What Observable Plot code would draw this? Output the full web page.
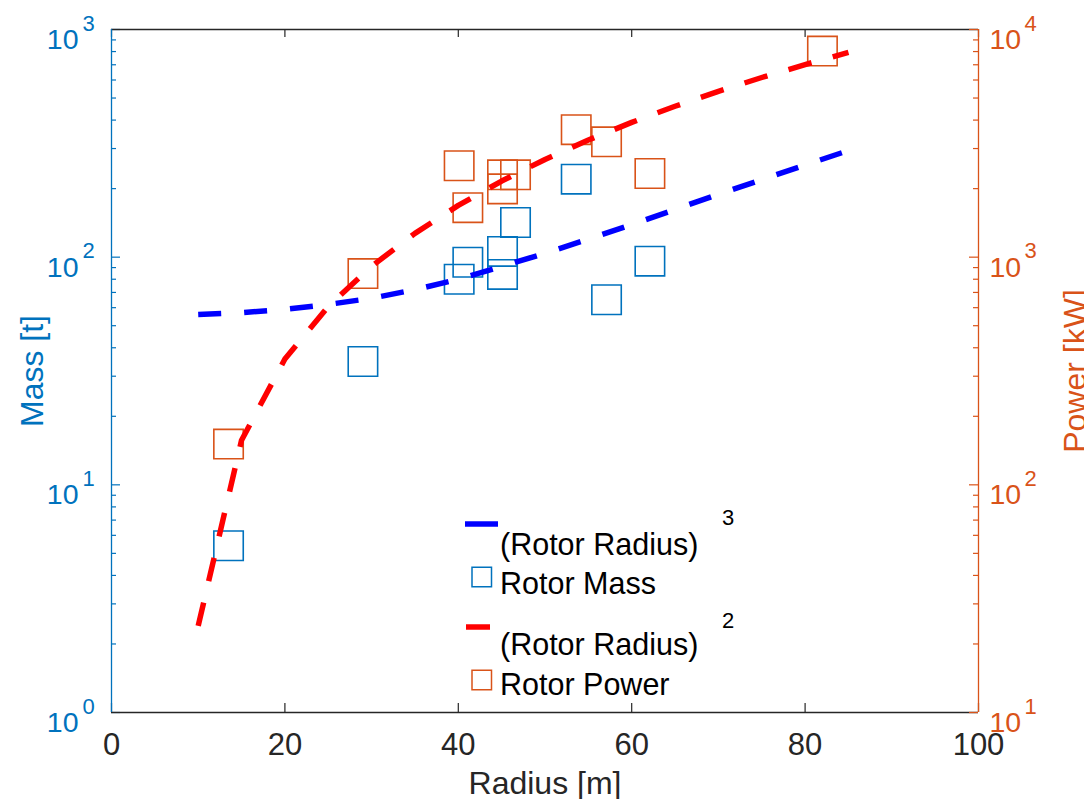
<!DOCTYPE html>
<html><head><meta charset="utf-8">
<script src="https://cdn.jsdelivr.net/npm/d3@7"></script>
<script src="https://cdn.jsdelivr.net/npm/@observablehq/plot@0.6"></script>
<style>
body{margin:0;background:#fff;}
#wrap{position:relative;width:1084px;height:799px;overflow:hidden;background:#fff;}
#wrap svg{position:absolute;left:0;top:0;}
</style></head><body><div id="wrap"></div>
<script>
// ---- data ----
const massRadius  = [13.5, 29.0, 40.1, 41.1, 45.1, 45.1, 46.6, 53.6, 57.1, 62.1];
const massValues  = [5.4, 34.8, 80, 95, 106, 84, 142, 220, 65, 96];
const powerRadius = [13.5, 29.0, 40.1, 41.1, 45.1, 46.6, 45.1, 53.6, 57.1, 62.1, 82.0];
const powerValues = [151, 847, 2520, 1650, 2300, 2300, 1995, 3630, 3210, 2330, 8040];
const fitRadius   = [10, 15, 20, 25, 30, 35, 40, 45, 50, 55, 60, 65, 70, 75, 80, 85];
const cubeFit     = [56, 57, 59, 62, 66, 72, 80, 91, 104, 120, 139, 162, 189, 219, 254, 294];
const squareFit   = [24, 157, 357, 607, 912, 1272, 1688, 2160, 2687, 3270, 3908, 4601, 5350, 6154, 7014, 7930];
const xTicks      = [0, 20, 40, 60, 80, 100];
const massTicks   = [1, 10, 100, 1000];
const powerTicks  = [10, 100, 1000, 10000];

const W = 1084, H = 799, mL = 111, mR = 106, mT = 29, mB = 87;
const fw = W - mL - mR, fh = H - mT - mB;
const font = "'Liberation Sans', Arial, Helvetica, sans-serif";
const BLUE = "#0072BD", ORANGE = "#D95319", INK = "#262626";

function minors(t) {
  const out = [];
  for (let i = 0; i < t.length - 1; i++) for (let k = 2; k <= 9; k++) out.push(t[i] * k);
  return out;
}
const massData = massRadius.map((r, i) => ({r, v: massValues[i]}));
const powerData = powerRadius.map((r, i) => ({r, v: powerValues[i]}));
const fitData = fitRadius.map((r, i) => ({r, c: cubeFit[i], s: squareFit[i]}));
const exp = d => String(Math.round(Math.log10(d)));

const common = {
  width: W, height: H, marginLeft: mL, marginRight: mR, marginTop: mT, marginBottom: mB,
  style: {fontFamily: font, background: "transparent", overflow: "visible"},
  x: {domain: [0, 100], axis: null}
};

const leftPlot = Plot.plot({
  ...common,
  y: {type: "log", domain: [1, 1000], axis: null},
  marks: [
    Plot.tickX(xTicks, {x: d => d, stroke: INK, strokeWidth: 1.2, insetTop: fh - 9}),
    Plot.tickX(xTicks, {x: d => d, stroke: INK, strokeWidth: 1.2, insetBottom: fh - 8}),
    Plot.tickY(massTicks, {y: d => d, stroke: BLUE, strokeWidth: 1.2, insetRight: fw - 9}),
    Plot.tickY(minors(massTicks), {y: d => d, stroke: BLUE, strokeWidth: 1.2, insetRight: fw - 5}),
    Plot.ruleY([1], {stroke: INK, strokeWidth: 1.3}),
    Plot.ruleY([1000], {stroke: INK, strokeWidth: 1.3}),
    Plot.ruleX([0], {stroke: BLUE, strokeWidth: 1.3}),
    Plot.text(xTicks, {x: d => d, text: d => String(d), frameAnchor: "bottom", lineAnchor: "bottom", textAnchor: "middle", dy: 42, fontSize: 31, fill: INK}),
    Plot.text(massTicks, {y: d => d, text: () => "10", frameAnchor: "left", textAnchor: "end", lineAnchor: "bottom", dx: -33, dy: 19.5, fontSize: 28.5, fill: BLUE}),
    Plot.text(massTicks, {y: d => d, text: exp, frameAnchor: "left", textAnchor: "start", lineAnchor: "bottom", dx: -29, dy: 1, fontSize: 22, fill: BLUE}),
    Plot.text(["Radius [m]"], {text: d => d, frameAnchor: "bottom", lineAnchor: "bottom", textAnchor: "middle", dy: 81, fontSize: 32, fill: INK}),
    Plot.text(["Mass [t]"], {text: d => d, frameAnchor: "left", lineAnchor: "bottom", textAnchor: "middle", rotate: -90, dx: -69, fontSize: 32, fill: BLUE}),
    Plot.dot(massData, {x: "r", y: "v", symbol: "square", r: 16.6, stroke: BLUE, strokeWidth: 1.6, fill: "none"}),
    Plot.line(fitData, {x: "r", y: "c", stroke: "#0000FF", strokeWidth: 5.5, strokeDasharray: "23,23", strokeLinecap: "butt"})
  ]
});

const rightPlot = Plot.plot({
  ...common,
  y: {type: "log", domain: [10, 10000], axis: null},
  marks: [
    Plot.tickY(powerTicks, {y: d => d, stroke: ORANGE, strokeWidth: 1.2, insetLeft: fw - 9}),
    Plot.tickY(minors(powerTicks), {y: d => d, stroke: ORANGE, strokeWidth: 1.2, insetLeft: fw - 5}),
    Plot.ruleX([100], {stroke: ORANGE, strokeWidth: 1.3}),
    Plot.text(powerTicks, {y: d => d, text: () => "10", frameAnchor: "right", textAnchor: "start", lineAnchor: "bottom", dx: 11, dy: 19.5, fontSize: 28.5, fill: ORANGE}),
    Plot.text(powerTicks, {y: d => d, text: exp, frameAnchor: "right", textAnchor: "start", lineAnchor: "bottom", dx: 46, dy: 1, fontSize: 22, fill: ORANGE}),
    Plot.text(["Power [kW]"], {text: d => d, frameAnchor: "right", lineAnchor: "bottom", textAnchor: "middle", rotate: -90, dx: 107, fontSize: 32, fill: ORANGE}),
    Plot.dot(powerData, {x: "r", y: "v", symbol: "square", r: 16.6, stroke: ORANGE, strokeWidth: 1.6, fill: "none"}),
    Plot.line(fitData, {x: "r", y: "s", stroke: "#FF0000", strokeWidth: 5.5, strokeDasharray: "24,22", strokeLinecap: "butt"})
  ]
});

// ---- legend overlay ----
const legendItems = [
  {kind: "line", color: "#0000FF", x1: 465, x2: 498, y: 524, label: "(Rotor Radius)", ly: 555, sup: "3", sy: 525},
  {kind: "square", color: BLUE, y: 577, label: "Rotor Mass", ly: 594},
  {kind: "line", color: "#FF0000", x1: 466, x2: 490, y: 627, label: "(Rotor Radius)", ly: 655, sup: "2", sy: 628},
  {kind: "square", color: ORANGE, y: 680, label: "Rotor Power", ly: 695}
];
const legend = d3.create("svg").attr("width", W).attr("height", H)
  .style("font-family", font).style("pointer-events", "none");
for (const it of legendItems) {
  if (it.kind === "line") {
    legend.append("line").attr("x1", it.x1).attr("x2", it.x2).attr("y1", it.y).attr("y2", it.y)
      .attr("stroke", it.color).attr("stroke-width", 5.5);
  } else {
    legend.append("rect").attr("x", 472).attr("y", it.y - 9.75).attr("width", 19.5).attr("height", 19.5)
      .attr("fill", "none").attr("stroke", it.color).attr("stroke-width", 1.5);
  }
  legend.append("text").attr("x", 500).attr("y", it.ly).attr("font-size", 30.5).attr("fill", "#000").text(it.label);
  if (it.sup) legend.append("text").attr("x", 722).attr("y", it.sy).attr("font-size", 22).attr("fill", "#000").text(it.sup);
}

const wrap = document.getElementById("wrap");
wrap.append(leftPlot, rightPlot, legend.node());
</script></body></html>
